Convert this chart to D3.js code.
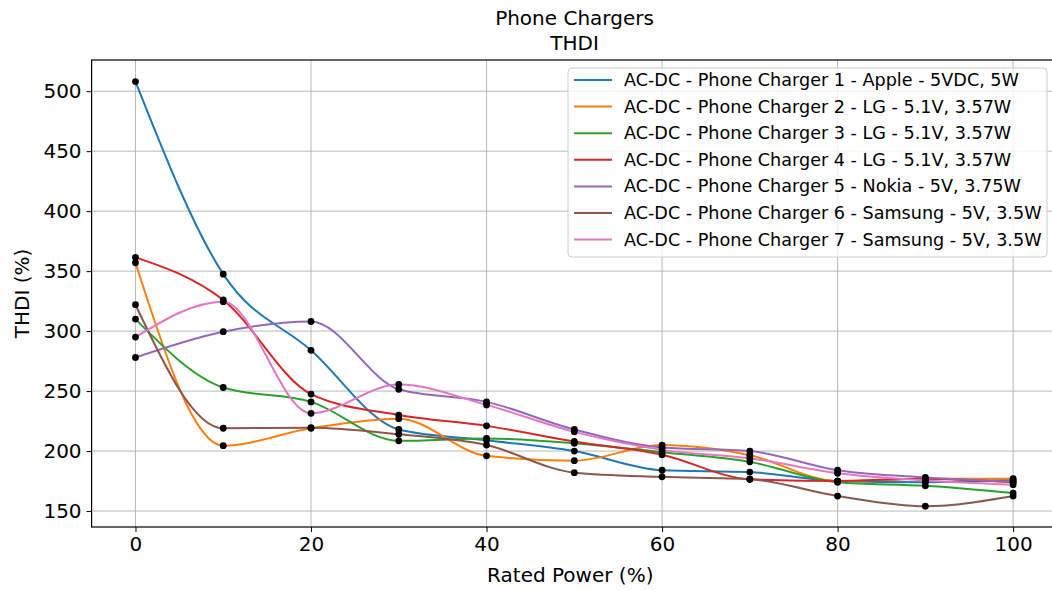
<!DOCTYPE html>
<html>
<head>
<meta charset="utf-8">
<script src="https://cdn.jsdelivr.net/npm/d3@7"></script>
<style>
  body { margin: 0; background: #fff; }
  svg { font-family: "DejaVu Sans", sans-serif; }
  .grid line { stroke: #b0b0b0; stroke-width: 0.9; }
</style>
</head>
<body>
<script>
const ratedPower = [0, 10, 20, 30, 40, 50, 60, 70, 80, 90, 100];

const charger1 = [508, 347.5, 284, 218, 209, 200, 184, 182.5, 175, 174, 176];
const charger2 = [357, 204.5, 219, 227, 196, 192, 205, 196.5, 175, 177, 177];
const charger3 = [310, 253, 241, 208.5, 210.5, 206.5, 199, 191, 174, 171, 165];
const charger4 = [361.5, 326, 247.5, 230, 221, 208, 197, 176.5, 175, 177, 174];
const charger5 = [278, 299.5, 308, 251.5, 241, 218, 203, 200, 184, 178, 174.5];
const charger6 = [322, 219, 219.5, 214, 205, 182, 178.5, 176.5, 162.5, 154, 162.5];
const charger7 = [295, 324.5, 231.5, 255.5, 238.5, 216, 201, 194, 181.5, 175.5, 172];

const seriesNames = [
  "AC-DC - Phone Charger 1 - Apple - 5VDC, 5W",
  "AC-DC - Phone Charger 2 - LG - 5.1V, 3.57W",
  "AC-DC - Phone Charger 3 - LG - 5.1V, 3.57W",
  "AC-DC - Phone Charger 4 - LG - 5.1V, 3.57W",
  "AC-DC - Phone Charger 5 - Nokia - 5V, 3.75W",
  "AC-DC - Phone Charger 6 - Samsung - 5V, 3.5W",
  "AC-DC - Phone Charger 7 - Samsung - 5V, 3.5W"
];
const seriesValues = [charger1, charger2, charger3, charger4, charger5, charger6, charger7];
const colors = ["#1f77b4", "#ff7f0e", "#2ca02c", "#d62728", "#9467bd", "#8c564b", "#e377c2"];

const xTicks = [0, 20, 40, 60, 80, 100];
const yTicks = [150, 200, 250, 300, 350, 400, 450, 500];

const width = 1052, height = 590;
const plot = {left: 91.6, right: 1057, top: 60, bottom: 527};

const xScale = d3.scaleLinear().domain([-5, 105]).range([plot.left, plot.right]);
const yScale = d3.scaleLinear().domain([136.7, 526]).range([plot.bottom, plot.top]);

const svg = d3.select("body").append("svg")
  .attr("width", width)
  .attr("height", height);

// grid
const grid = svg.append("g").attr("class", "grid");
grid.selectAll(".gx").data(xTicks).enter().append("line")
  .attr("x1", d => xScale(d)).attr("x2", d => xScale(d))
  .attr("y1", plot.top).attr("y2", plot.bottom);
grid.selectAll(".gy").data(yTicks).enter().append("line")
  .attr("x1", plot.left).attr("x2", plot.right)
  .attr("y1", d => yScale(d)).attr("y2", d => yScale(d));

// smooth lines
const line = d3.line()
  .x((d, i) => xScale(ratedPower[i]))
  .y(d => yScale(d))
  .curve(d3.curveMonotoneX);

svg.append("g").selectAll("path").data(seriesValues).enter().append("path")
  .attr("d", d => line(d))
  .attr("fill", "none")
  .attr("stroke", (d, i) => colors[i])
  .attr("stroke-width", 2);

// points
const dots = svg.append("g");
seriesValues.forEach((vals) => {
  dots.selectAll(null).data(vals).enter().append("circle")
    .attr("cx", (d, i) => xScale(ratedPower[i]))
    .attr("cy", d => yScale(d))
    .attr("r", 3.4)
    .attr("fill", "#000");
});

// axes
const xAxis = d3.axisBottom(xScale).tickValues(xTicks).tickSize(5).tickPadding(5);
const yAxis = d3.axisLeft(yScale).tickValues(yTicks).tickSize(5).tickPadding(5);

const gx = svg.append("g")
  .attr("transform", "translate(0," + plot.bottom + ")")
  .call(xAxis);
const gy = svg.append("g")
  .attr("transform", "translate(" + plot.left + ",0)")
  .call(yAxis);
[gx, gy].forEach(g => {
  g.select(".domain").remove();
  g.selectAll("line").attr("stroke", "#000").attr("stroke-width", 1);
  g.selectAll("text").attr("font-family", "DejaVu Sans").attr("font-size", 20).attr("fill", "#000");
});

// spines
svg.append("rect")
  .attr("x", plot.left).attr("y", plot.top)
  .attr("width", plot.right - plot.left).attr("height", plot.bottom - plot.top)
  .attr("fill", "none").attr("stroke", "#000").attr("stroke-width", 1.2);

// labels
svg.append("text")
  .attr("x", (plot.left + plot.right) / 2 - 4)
  .attr("y", 582)
  .style("text-anchor", "middle")
  .attr("font-size", 20)
  .text("Rated Power (%)");

svg.append("text")
  .attr("transform", "translate(29," + ((plot.top + plot.bottom) / 2) + ") rotate(-90)")
  .style("text-anchor", "middle")
  .attr("font-size", 20)
  .text("THDI (%)");

svg.append("text")
  .attr("x", 574.5).attr("y", 25)
  .style("text-anchor", "middle")
  .attr("font-size", 20)
  .text("Phone Chargers");
svg.append("text")
  .attr("x", 574.5).attr("y", 50)
  .style("text-anchor", "middle")
  .attr("font-size", 20)
  .text("THDI");

// legend
const legend = svg.append("g").attr("transform", "translate(568,68)");
legend.append("rect")
  .attr("width", 479).attr("height", 189)
  .attr("rx", 4).attr("ry", 4)
  .attr("fill", "#fff").attr("fill-opacity", 0.8)
  .attr("stroke", "#cccccc").attr("stroke-width", 1);

const items = legend.selectAll(".item").data(seriesNames).enter().append("g")
  .attr("transform", (d, i) => "translate(0," + (12 + i * 26.6) + ")");
items.append("line")
  .attr("x1", 6).attr("x2", 44)
  .attr("stroke", (d, i) => colors[i])
  .attr("stroke-width", 2);
items.append("text")
  .attr("x", 56).attr("y", 6)
  .attr("font-size", 17.6)
  .text(d => d);
</script>
</body>
</html>
